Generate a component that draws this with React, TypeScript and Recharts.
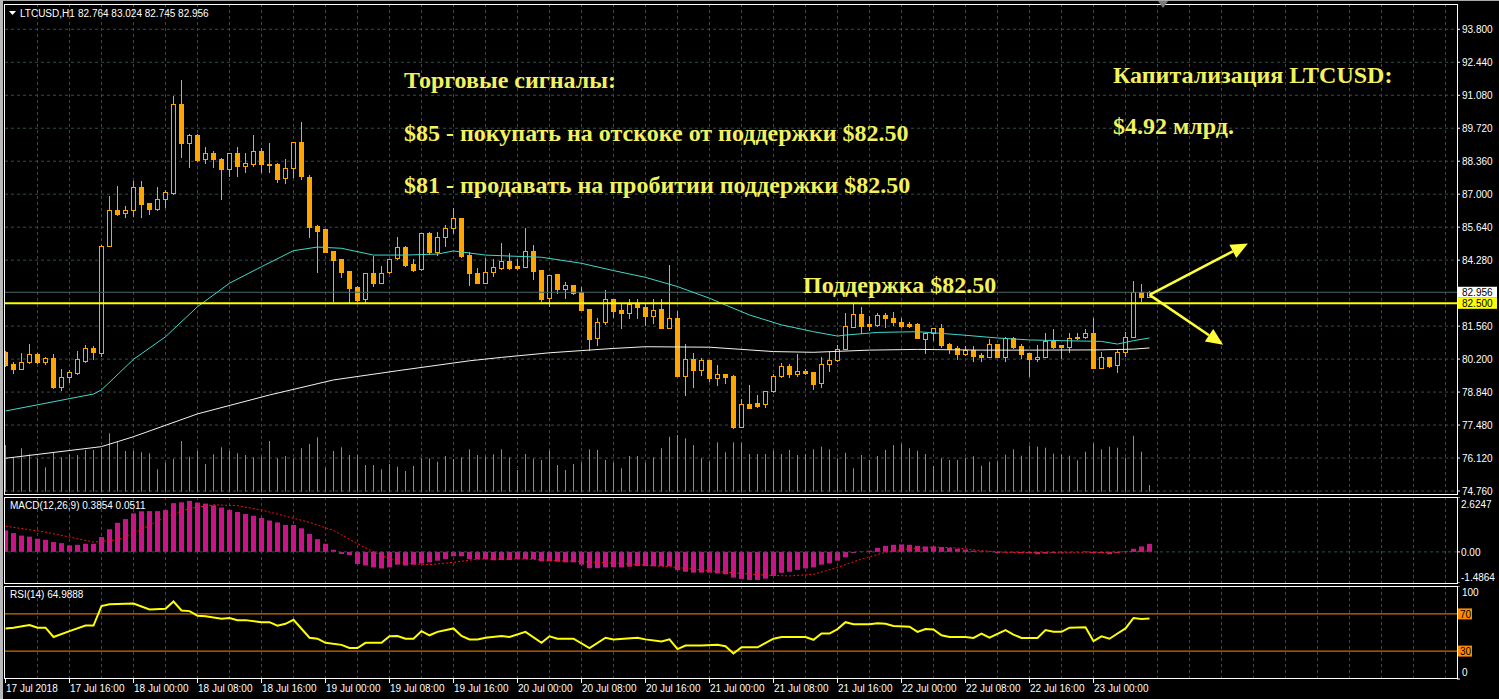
import React from 'react';
import { ComposedChart, Bar, Line, XAxis, YAxis, CartesianGrid, ReferenceLine } from 'recharts';

// ---------- data (LTCUSD H1, 17 Jul 2018 08:00 .. 23 Jul 2018 07:00) ----------
const OPEN = [
  80.51, 79.99, 79.80, 80.07, 80.40, 80.09, 80.23, 79.03, 79.45, 79.64,
  80.13, 80.66, 80.44, 84.88, 86.33, 86.21, 86.33, 87.28, 86.62, 86.38,
  86.79, 87.06, 90.72, 89.10, 89.44, 88.44, 88.69, 88.44, 88.02, 88.69,
  88.18, 88.24, 88.78, 88.24, 88.24, 87.65, 88.07, 89.14, 87.70, 85.69,
  85.55, 84.66, 84.31, 83.83, 83.19, 82.66, 83.74, 83.32, 83.78, 84.35,
  84.81, 84.12, 83.90, 85.39, 84.63, 85.22, 85.59, 86.00, 84.49, 83.74,
  83.35, 83.80, 83.97, 84.24, 84.04, 84.01, 84.66, 83.87, 82.70, 83.71,
  83.09, 83.26, 82.98, 82.26, 81.06, 81.74, 82.66, 82.22, 82.09, 82.50,
  82.33, 81.99, 82.26, 81.50, 81.88, 79.50, 80.19, 79.75, 80.16, 79.41,
  79.58, 79.50, 77.41, 78.33, 78.37, 78.33, 78.90, 79.52, 79.92, 79.57,
  79.71, 79.68, 79.20, 79.98, 80.16, 80.60, 81.54, 82.06, 81.65, 81.61,
  82.02, 81.88, 81.74, 81.65, 81.65, 81.01, 81.29, 81.47, 80.82, 80.64,
  80.41, 80.58, 80.37, 80.27, 80.82, 80.30, 81.08, 80.74, 80.44, 80.19,
  80.30, 80.96, 80.78, 80.68, 81.06, 81.12, 81.29, 79.82, 80.27, 79.96,
  80.51, 81.12, 82.95, 82.764,
];
const HIGH = [
  80.55, 80.08, 80.44, 80.82, 80.44, 80.30, 80.40, 79.78, 79.75, 80.53,
  80.77, 80.74, 84.92, 86.92, 87.34, 86.51, 87.54, 87.54, 86.62, 87.28,
  87.17, 91.05, 91.71, 89.48, 89.48, 88.93, 88.80, 88.48, 88.71, 88.93,
  88.69, 89.44, 88.89, 89.12, 88.27, 88.45, 89.14, 89.99, 87.79, 85.73,
  85.55, 84.66, 84.31, 83.83, 83.22, 83.74, 84.45, 84.04, 84.31, 85.25,
  84.86, 84.31, 85.39, 85.43, 85.43, 85.73, 86.42, 86.00, 84.63, 83.94,
  84.36, 84.31, 84.97, 84.59, 84.31, 85.59, 84.90, 83.87, 83.67, 83.71,
  83.39, 83.26, 83.19, 82.26, 81.88, 83.05, 82.66, 82.50, 82.66, 82.66,
  82.50, 82.66, 82.66, 84.08, 82.20, 80.82, 80.46, 80.23, 80.16, 79.96,
  79.58, 79.54, 78.54, 79.13, 78.72, 78.90, 79.58, 80.05, 79.98, 80.41,
  79.78, 79.68, 80.27, 80.51, 80.78, 82.11, 82.50, 82.36, 81.98, 82.09,
  82.09, 82.16, 81.88, 81.74, 81.67, 81.26, 81.47, 81.65, 80.88, 80.74,
  80.74, 80.74, 80.44, 81.01, 80.82, 81.12, 81.12, 80.82, 80.44, 80.78,
  81.26, 81.43, 80.78, 81.29, 81.26, 81.43, 81.88, 80.51, 80.27, 80.60,
  81.33, 83.43, 83.30, 83.024,
];
const LOW = [
  79.90, 79.64, 79.78, 80.05, 80.02, 79.99, 79.00, 78.92, 79.27, 79.58,
  80.09, 80.22, 80.34, 84.85, 86.14, 86.07, 86.10, 86.07, 86.18, 86.35,
  86.49, 87.01, 88.55, 88.13, 88.38, 88.27, 88.13, 86.79, 87.75, 87.75,
  87.93, 88.16, 87.93, 87.93, 87.52, 87.47, 87.72, 87.61, 85.22, 83.80,
  84.60, 82.61, 83.57, 82.57, 82.61, 82.57, 83.22, 83.32, 83.74, 84.31,
  84.04, 83.85, 83.87, 84.53, 84.49, 84.86, 85.39, 84.40, 83.25, 83.32,
  83.35, 83.64, 83.92, 83.92, 83.92, 84.01, 83.50, 82.61, 82.39, 82.91,
  82.73, 82.87, 82.22, 80.58, 80.78, 81.65, 81.92, 81.47, 81.88, 81.88,
  81.61, 81.67, 81.50, 81.50, 79.50, 78.72, 79.06, 79.54, 79.31, 79.13,
  79.20, 77.34, 77.41, 78.17, 78.24, 78.24, 78.86, 79.45, 79.45, 79.50,
  79.58, 78.95, 79.03, 79.72, 80.13, 80.60, 81.51, 81.29, 81.40, 81.56,
  81.54, 81.61, 81.54, 81.54, 81.06, 80.44, 80.99, 80.68, 80.46, 80.19,
  80.37, 80.13, 80.13, 80.27, 80.30, 80.13, 80.64, 80.23, 79.50, 80.13,
  80.27, 80.64, 80.23, 80.51, 81.01, 81.09, 79.82, 79.82, 79.86, 79.68,
  80.33, 81.12, 82.61, 82.745,
];
const CLOSE = [
  79.96, 79.80, 80.07, 80.40, 80.09, 80.23, 79.03, 79.45, 79.65, 80.19,
  80.64, 80.51, 84.88, 86.33, 86.18, 86.33, 87.28, 86.61, 86.40, 86.79,
  87.08, 90.72, 89.10, 89.44, 88.41, 88.69, 88.44, 88.02, 88.69, 88.18,
  88.27, 88.78, 88.24, 88.22, 87.63, 88.07, 89.14, 87.75, 85.66, 85.50,
  84.63, 84.29, 83.80, 83.14, 82.64, 83.74, 83.32, 83.74, 84.31, 84.84,
  84.08, 83.87, 85.39, 84.63, 85.22, 85.59, 86.00, 84.45, 83.74, 83.35,
  83.78, 83.98, 84.24, 83.94, 83.97, 84.66, 83.85, 82.66, 83.67, 83.09,
  83.26, 82.94, 82.22, 81.03, 81.74, 82.66, 82.20, 82.09, 82.46, 82.36,
  81.98, 82.22, 81.50, 81.88, 79.50, 80.19, 79.75, 80.16, 79.41, 79.59,
  79.47, 77.41, 78.34, 78.20, 78.28, 78.90, 79.52, 79.92, 79.58, 79.71,
  79.64, 79.17, 80.00, 80.16, 80.60, 81.56, 82.06, 81.56, 81.56, 82.02,
  81.88, 81.74, 81.56, 81.56, 81.06, 81.26, 81.47, 80.78, 80.60, 80.41,
  80.58, 80.33, 80.27, 80.82, 80.30, 81.08, 80.71, 80.41, 80.19, 80.27,
  80.96, 80.71, 80.68, 81.06, 81.12, 81.29, 79.82, 80.27, 79.92, 80.51,
  81.12, 82.95, 82.77, 82.956,
];
const VOLUME = [
  1400, 1030, 1300, 1120, 1000, 730, 1180, 1030, 1120, 1100,
  1250, 1250, 1300, 1750, 1500, 1220, 1220, 1180, 1150, 670,
  870, 980, 1520, 1050, 1220, 830, 1120, 1330, 1220, 1150,
  1100, 1030, 1050, 1520, 1000, 1070, 1000, 1300, 1430, 1630,
  720, 1220, 1330, 1100, 1100, 800, 800, 670, 830, 750,
  620, 770, 1000, 1000, 900, 1070, 980, 1030, 1270, 1100,
  1050, 1120, 1270, 1030, 650, 1130, 990, 950, 1230, 800,
  650, 830, 870, 1270, 1250, 950, 870, 700, 1070, 1070,
  870, 1030, 1300, 1650, 1700, 1600, 1400, 1000, 900, 1480,
  1180, 1480, 1470, 1130, 1130, 1130, 1230, 1130, 1250, 1100,
  1130, 1270, 1350, 1270, 1000, 1170, 700, 1100, 950, 1070,
  1250, 1400, 1430, 1300, 1230, 1130, 770, 1000, 950, 950,
  1010, 1060, 775, 900, 905, 1110, 1270, 1080, 1380, 1350,
  1320, 1140, 1120, 1080, 940, 1200, 1450, 1270, 1350, 1320,
  1020, 1680, 1200, 200,
];
const MACD_HIST = [
  1.03, 0.90, 0.78, 0.73, 0.63, 0.58, 0.47, 0.42, 0.31, 0.34,
  0.39, 0.39, 0.71, 1.08, 1.39, 1.57, 1.84, 1.94, 1.95, 1.95,
  2.00, 2.33, 2.37, 2.44, 2.36, 2.31, 2.23, 2.12, 2.00, 1.91,
  1.81, 1.73, 1.62, 1.50, 1.41, 1.29, 1.29, 1.13, 0.86, 0.61,
  0.39, 0.10, -0.10, -0.15, -0.58, -0.65, -0.74, -0.79, -0.74, -0.61,
  -0.65, -0.61, -0.55, -0.50, -0.42, -0.34, -0.21, -0.21, -0.34, -0.36,
  -0.34, -0.40, -0.39, -0.39, -0.34, -0.34, -0.34, -0.45, -0.45, -0.47,
  -0.50, -0.50, -0.61, -0.78, -0.78, -0.74, -0.73, -0.74, -0.71, -0.68,
  -0.68, -0.69, -0.68, -0.69, -0.87, -0.95, -0.99, -0.99, -0.99, -1.03,
  -1.07, -1.23, -1.29, -1.34, -1.34, -1.28, -1.15, -1.00, -0.95, -0.86,
  -0.79, -0.74, -0.61, -0.55, -0.42, -0.26, -0.06, 0.02, 0.06, 0.19,
  0.29, 0.34, 0.36, 0.34, 0.29, 0.26, 0.26, 0.23, 0.19, 0.15,
  0.11, 0.06, 0.03, 0.02, -0.06, -0.03, -0.03, -0.05, -0.06, -0.11,
  -0.08, -0.05, -0.03, -0.02, 0.00, 0.03, -0.05, -0.06, -0.11, -0.06,
  0.02, 0.15, 0.26, 0.3854,
];
const MACD_SIGNAL: [number, number][] = [
  [0, 1.23], [5, 0.95], [11, 0.47], [14, 0.58], [17, 1.07], [20, 1.68], [23, 2.08], [26, 2.25],
  [29, 2.21], [32, 2.0], [35, 1.71], [38, 1.41], [41, 1.03], [44, 0.39], [47, -0.18], [50, -0.55],
  [53, -0.61], [56, -0.5], [59, -0.34], [65, -0.34], [71, -0.45], [77, -0.55], [83, -0.71], [89, -0.94],
  [92, -1.03], [95, -1.11], [98, -1.15], [101, -1.07], [104, -0.74], [107, -0.34], [110, -0.02],
  [113, 0.15], [116, 0.23], [119, 0.19], [122, 0.06], [125, -0.02], [131, -0.05], [137, -0.03],
  [141, 0.02], [143, 0.0511],
];
const RSI_POINTS: [number, number][] = [
  [0, 54.4], [1, 55.2], [3, 58.1], [4, 55.2], [5, 55.2], [6, 45.2], [8, 51.5], [10, 57.4], [11, 57.4],
  [12, 78.5], [13, 80.4], [16, 81.1], [18, 74.8], [20, 75.6], [21, 83.3], [22, 73.7], [23, 73.0],
  [24, 68.1], [25, 67.4], [27, 64.8], [28, 65.6], [29, 63.3], [30, 63.3], [32, 61.1], [33, 61.1],
  [34, 57.4], [35, 59.3], [36, 63.7], [38, 44.4], [39, 43.3], [40, 38.9], [42, 36.7], [43, 33.3],
  [44, 33.3], [45, 38.9], [47, 38.9], [48, 45.9], [49, 46.3], [50, 43.3], [51, 43.3], [52, 51.5],
  [53, 47.0], [54, 50.7], [56, 54.4], [57, 46.3], [58, 42.6], [59, 42.6], [60, 44.4], [62, 46.3],
  [63, 45.2], [65, 50.7], [67, 38.9], [68, 45.9], [69, 43.3], [71, 43.3], [73, 33.3], [75, 44.4],
  [76, 42.6], [79, 44.4], [80, 42.6], [82, 40.4], [83, 42.6], [84, 32.2], [85, 35.9], [87, 35.9],
  [89, 36.7], [90, 35.2], [91, 27.4], [92, 34.1], [94, 34.1], [96, 43.3], [97, 45.2], [100, 45.2],
  [101, 42.2], [102, 48.9], [103, 48.9], [104, 53.7], [105, 61.1], [106, 58.9], [108, 58.9],
  [109, 60.0], [110, 59.3], [111, 57.0], [113, 56.3], [114, 50.7], [115, 53.7], [116, 53.3],
  [117, 47.0], [118, 45.2], [120, 45.2], [121, 44.1], [122, 48.9], [123, 44.4], [125, 52.6],
  [126, 47.8], [127, 44.1], [129, 44.1], [130, 52.6], [131, 50.7], [132, 50.7], [133, 55.2],
  [135, 55.6], [136, 40.7], [137, 45.9], [138, 43.3], [139, 48.9], [140, 54.4], [141, 65.6],
  [142, 64.4], [143, 64.9888],
];
const MA_FAST: [number, number][] = [
  [0, 78.06], [11, 78.76], [12, 78.93], [16, 80.19], [20, 81.12], [24, 82.36], [28, 83.33],
  [32, 84.01], [36, 84.67], [39, 84.82], [42, 84.77], [46, 84.49], [50, 84.49], [54, 84.53],
  [56, 84.66], [60, 84.49], [63, 84.45], [67, 84.40], [72, 84.15], [76, 83.85], [80, 83.57],
  [84, 83.19], [88, 82.71], [90, 82.43], [93, 82.02], [97, 81.61], [101, 81.33], [104, 81.15],
  [105, 81.19], [109, 81.30], [114, 81.33], [119, 81.21], [124, 81.07], [128, 80.99],
  [132, 80.96], [137, 80.93], [139, 80.82], [141, 80.96], [143, 81.07],
];
const MA_SLOW: [number, number][] = [
  [0, 76.11], [12, 76.59], [16, 77.0], [24, 77.94], [33, 78.72], [41, 79.34], [49, 79.72],
  [58, 80.13], [62, 80.27], [68, 80.46], [76, 80.64], [80, 80.71], [88, 80.69], [96, 80.51],
  [101, 80.48], [108, 80.57], [114, 80.60], [122, 80.57], [128, 80.57], [137, 80.58],
  [141, 80.61], [143, 80.66],
];
const PRICE_TICKS = [93.8, 92.44, 91.08, 89.72, 88.36, 87.0, 85.64, 84.28, 81.56, 80.2, 78.84, 77.48, 76.12, 74.76];
const TIME_LABELS = [
  '17 Jul 2018', '17 Jul 16:00', '18 Jul 00:00', '18 Jul 08:00', '18 Jul 16:00', '19 Jul 00:00',
  '19 Jul 08:00', '19 Jul 16:00', '20 Jul 00:00', '20 Jul 08:00', '20 Jul 16:00', '21 Jul 00:00',
  '21 Jul 08:00', '21 Jul 16:00', '22 Jul 00:00', '22 Jul 08:00', '22 Jul 16:00', '23 Jul 00:00',
];
const TIME_LABEL_BARS = [0, 8, 16, 24, 32, 40, 48, 56, 64, 72, 80, 88, 96, 104, 112, 120, 128, 136];
const GRID_BARS = Array.from({ length: 45 }, (_, k) => 4 * (k + 1));
const MACD_TICKS = [2.6247, 0, -1.4864];
const RSI_TICKS = [100, 70, 30, 0];
const SUPPORT = 82.5;
const BID = 82.956;
const ARROW_FROM = { x: 143, y: 82.85 };
const ARROW_UP = { x: 155.3, y: 84.97 };
const ARROW_DOWN = { x: 152.2, y: 80.79 };

// ---------- layout / style ----------
const XMIN = -0.0625;
const XMAX = 181.4375;
const PRICE_DOMAIN: [number, number] = [74.637, 94.843];
const VOL_DOMAIN: [number, number] = [-70, 14630];
const MACD_DOMAIN: [number, number] = [-1.4864, 2.6247];
const GRID = '#2F4F4F';
const ORANGE = '#FFA500';
const TEXT_YELLOW = '#F2F25E';
const FONT = '"Liberation Sans", Arial, sans-serif';

const rows = OPEN.map((o, i) => ({ i, o, h: HIGH[i], l: LOW[i], c: CLOSE[i], hl: [LOW[i], HIGH[i]], vol: VOLUME[i] }));
const macdRows = MACD_HIST.map((m, i) => ({ i, m }));
const pts = (a: [number, number][]) => a.map(([i, v]) => ({ i, v }));

const Candle = (p: any) => {
  const { x, y, width, height, payload } = p;
  if (x == null || !payload) return null;
  const top = Math.min(y, y + height);
  const bot = Math.max(y, y + height);
  const range = payload.h - payload.l;
  const py = (v: number) => (range === 0 ? top : top + ((payload.h - v) / range) * (bot - top));
  const cx = Math.floor(x + width / 2 + 0.01) + 0.5;
  const yo = py(payload.o);
  const yc = py(payload.c);
  const bull = payload.c >= payload.o;
  const bt = Math.round(Math.min(yo, yc)) + 0.5;
  let bb = Math.round(Math.max(yo, yc)) + 0.5;
  if (bb - bt < 1) bb = bt + 1;
  return (
    <g>
      <line x1={cx} x2={cx} y1={Math.round(top)} y2={Math.round(bot) + 1} stroke={ORANGE} strokeWidth={1} />
      <rect x={cx - 2} y={bt} width={4} height={bb - bt} fill={bull ? '#000' : ORANGE} stroke={ORANGE} strokeWidth={1} />
    </g>
  );
};

const VolBar = (p: any) => {
  const { x, y, width, height } = p;
  if (x == null) return null;
  const top = Math.min(y, y + height);
  const h = Math.abs(height);
  return <rect x={Math.floor(x + width / 2 + 0.01)} y={top} width={1} height={h} fill="#32CD32" />;
};

const MacdBar = (p: any) => {
  const { x, y, width, height } = p;
  if (x == null) return null;
  const top = Math.min(y, y + height);
  const h = Math.abs(height);
  return <rect x={Math.floor(x + width / 2 + 0.01) - 2} y={top} width={5} height={h} fill="#C71585" />;
};

const arrowShape = (p: any) => {
  const { x1, y1, x2, y2 } = p;
  if ([x1, y1, x2, y2].some((v) => v == null || isNaN(v))) return null;
  const dx = x2 - x1;
  const dy = y2 - y1;
  const len = Math.hypot(dx, dy) || 1;
  const ux = dx / len;
  const uy = dy / len;
  const L = 17;
  const W = 7.5;
  const bx = x2 - ux * L;
  const by = y2 - uy * L;
  return (
    <g>
      <line x1={x1} y1={y1} x2={bx} y2={by} stroke="#FFFF3A" strokeWidth={2.6} />
      <polygon points={`${x2},${y2} ${bx - uy * W},${by + ux * W} ${bx + uy * W},${by - ux * W}`} fill="#FFFF3A" />
    </g>
  );
};

const PriceTick = (p: any) => {
  const { x, y, payload } = p;
  const v = payload.value;
  const txt = Number(v).toFixed(3);
  if (v === BID || v === SUPPORT) {
    return (
      <g>
        <rect x={x - 4} y={y - 5.5} width={39} height={11} fill={v === BID ? '#FFFFFF' : '#FFFF00'} />
        <text x={x} y={y + 4} fontSize={10} fill="#000" fontFamily={FONT}>{txt}</text>
      </g>
    );
  }
  return <text x={x} y={y + 4} fontSize={10} fill="#fff" fontFamily={FONT}>{txt}</text>;
};

const MacdTick = (p: any) => {
  const { x, y, payload } = p;
  const v = payload.value;
  const txt = v === 0 ? '0.00' : String(v);
  const dy = v === MACD_DOMAIN[1] ? 11 : v === MACD_DOMAIN[0] ? -2 : 4;
  return <text x={x - 1} y={y + dy} fontSize={10} fill="#fff" fontFamily={FONT}>{txt}</text>;
};

const RsiTick = (p: any) => {
  const { x, y, payload } = p;
  const v = payload.value;
  if (v === 70 || v === 30) {
    return (
      <g>
        <rect x={x - 4} y={y - 5.5} width={14} height={11} fill="#FF8C00" />
        <text x={x - 2} y={y + 4} fontSize={10} fill="#000" fontFamily={FONT}>{v}</text>
      </g>
    );
  }
  const dy = v === 100 ? 10 : -3;
  return <text x={x} y={y + dy} fontSize={10} fill="#fff" fontFamily={FONT}>{v}</text>;
};

const TimeTick = (p: any) => {
  const { x, y, payload } = p;
  const idx = TIME_LABEL_BARS.indexOf(payload.value);
  if (idx < 0) return null;
  const xx = Math.floor(x + 0.01) + 0.5;
  return (
    <g>
      <line x1={xx} x2={xx} y1={y} y2={y + 4} stroke="#fff" />
      <text x={xx + 0.5} y={y + 13} fontSize={10} fill="#fff" fontFamily={FONT}>{TIME_LABELS[idx]}</text>
    </g>
  );
};

const frame = (top: number, height: number): React.CSSProperties => ({
  position: 'absolute', left: 4, top, width: 1454, height, border: '1px solid #fff', boxSizing: 'border-box', pointerEvents: 'none',
});

export default function App() {
  return (
    <div style={{ position: 'fixed', left: 0, top: 0, width: 1499, height: 699, background: '#000', overflow: 'hidden', fontFamily: FONT }}>
      {/* main price panel */}
      <div style={{ position: 'absolute', left: 0, top: 0 }}>
        <ComposedChart width={1499} height={502} data={rows} margin={{ top: 4, right: 0, bottom: 8, left: 5 }}>
          <XAxis dataKey="i" type="number" domain={[XMIN, XMAX]} allowDataOverflow hide ticks={GRID_BARS} />
          <XAxis xAxisId="vx" dataKey="i" type="number" domain={[XMIN, XMAX]} allowDataOverflow hide />
          <YAxis orientation="right" type="number" domain={PRICE_DOMAIN} allowDataOverflow width={42}
            ticks={[...PRICE_TICKS, BID, SUPPORT]} interval={0} tick={<PriceTick />} tickSize={3} tickMargin={2}
            tickLine={{ stroke: '#fff' }} axisLine={false} />
          <YAxis yAxisId="v" type="number" domain={VOL_DOMAIN} allowDataOverflow hide />
          <CartesianGrid stroke={GRID} strokeDasharray="3 3" verticalValues={GRID_BARS} horizontalValues={PRICE_TICKS} />
          <ReferenceLine y={BID} stroke="#4A6A6A" strokeWidth={1} />
          <Bar xAxisId="vx" yAxisId="v" dataKey="vol" barSize={1} shape={<VolBar />} isAnimationActive={false} />
          <Line data={pts(MA_SLOW)} dataKey="v" stroke="#F4F4EC" strokeWidth={1} dot={false} isAnimationActive={false} />
          <Line data={pts(MA_FAST)} dataKey="v" stroke="#40D8CC" strokeWidth={1} dot={false} isAnimationActive={false} />
          <Bar dataKey="hl" barSize={5} shape={<Candle />} isAnimationActive={false} />
          <ReferenceLine y={SUPPORT} stroke="#FFFF00" strokeWidth={2} />
          <ReferenceLine segment={[ARROW_FROM, ARROW_UP]} ifOverflow="visible" shape={arrowShape} />
          <ReferenceLine segment={[ARROW_FROM, ARROW_DOWN]} ifOverflow="visible" shape={arrowShape} />
        </ComposedChart>
      </div>

      {/* MACD panel */}
      <div style={{ position: 'absolute', left: 0, top: 497 }}>
        <ComposedChart width={1499} height={86} data={macdRows} margin={{ top: 0, right: 0, bottom: 0, left: 5 }}>
          <XAxis dataKey="i" type="number" domain={[XMIN, XMAX]} allowDataOverflow hide />
          <YAxis orientation="right" type="number" domain={MACD_DOMAIN} allowDataOverflow width={42}
            ticks={MACD_TICKS} interval={0} tick={<MacdTick />} tickSize={3} tickMargin={2}
            tickLine={{ stroke: '#fff' }} axisLine={false} />
          <CartesianGrid stroke={GRID} strokeDasharray="3 3" horizontal={false} verticalValues={GRID_BARS} />
          <ReferenceLine y={0} stroke={GRID} strokeDasharray="3 3" />
          <Bar dataKey="m" barSize={5} shape={<MacdBar />} isAnimationActive={false} />
          <Line data={pts(MACD_SIGNAL)} dataKey="v" stroke="#FF1010" strokeWidth={1} strokeDasharray="2 2" dot={false} isAnimationActive={false} />
        </ComposedChart>
      </div>

      {/* RSI panel + time axis */}
      <div style={{ position: 'absolute', left: 0, top: 586 }}>
        <ComposedChart width={1499} height={113} data={pts(RSI_POINTS)} margin={{ top: 0, right: 0, bottom: 0, left: 5 }}>
          <XAxis dataKey="i" type="number" domain={[XMIN, XMAX]} allowDataOverflow height={20}
            ticks={TIME_LABEL_BARS} interval={0} tick={<TimeTick />} tickSize={0} tickMargin={0}
            tickLine={false} axisLine={false} />
          <YAxis orientation="right" type="number" domain={[0, 100]} allowDataOverflow width={42}
            ticks={RSI_TICKS} interval={0} tick={<RsiTick />} tickSize={3} tickMargin={2}
            tickLine={{ stroke: '#fff' }} axisLine={false} />
          <CartesianGrid stroke={GRID} strokeDasharray="3 3" horizontal={false} verticalValues={GRID_BARS} />
          <ReferenceLine y={70} stroke="#FF8C00" strokeWidth={1} />
          <ReferenceLine y={30} stroke="#FF8C00" strokeWidth={1} />
          <Line dataKey="v" stroke="#FFFF00" strokeWidth={2} dot={false} isAnimationActive={false} />
        </ComposedChart>
      </div>

      {/* panel frames and window border */}
      <div style={frame(4, 491)} />
      <div style={frame(497, 87)} />
      <div style={frame(586, 93)} />
      <div style={{ position: 'absolute', left: 0, top: 0, width: 1499, height: 1, background: '#A8A8A8' }} />
      <div style={{ position: 'absolute', left: 0, top: 0, width: 3, height: 699, background: '#B8B8B8' }} />

      {/* texts */}
      <svg width={1499} height={699} style={{ position: 'absolute', left: 0, top: 0, pointerEvents: 'none' }}>
        <polygon points="9,11 16,11 12.5,15" fill="#fff" />
        <text x={20} y={16.5} fontSize={10} fill="#fff" fontFamily={FONT}>LTCUSD,H1</text>
        <text x={78} y={16.5} fontSize={10} fill="#fff" fontFamily={FONT}>82.764 83.024 82.745 82.956</text>
        <polygon points="1158,1 1168,1 1163,8" fill="#7A7A7A" />
        <text x={10} y={509} fontSize={10} fill="#fff" fontFamily={FONT}>MACD(12,26,9) 0.3854 0.0511</text>
        <text x={10} y={598} fontSize={10} fill="#fff" fontFamily={FONT}>RSI(14) 64.9888</text>
        <g fontFamily='"Liberation Serif", "Times New Roman", serif' fontWeight="bold" fontSize={24} fill={TEXT_YELLOW}>
          <text x={404} y={87.5}>Торговые сигналы:</text>
          <text x={404} y={140.5}>$85 - покупать на отскоке от поддержки $82.50</text>
          <text x={404} y={192.5}>$81 - продавать на пробитии поддержки $82.50</text>
          <text x={1113} y={83}>Капитализация LTCUSD:</text>
          <text x={1113} y={134}>$4.92 млрд.</text>
          <text x={803} y={292.5}>Поддержка $82.50</text>
        </g>
      </svg>
    </div>
  );
}
